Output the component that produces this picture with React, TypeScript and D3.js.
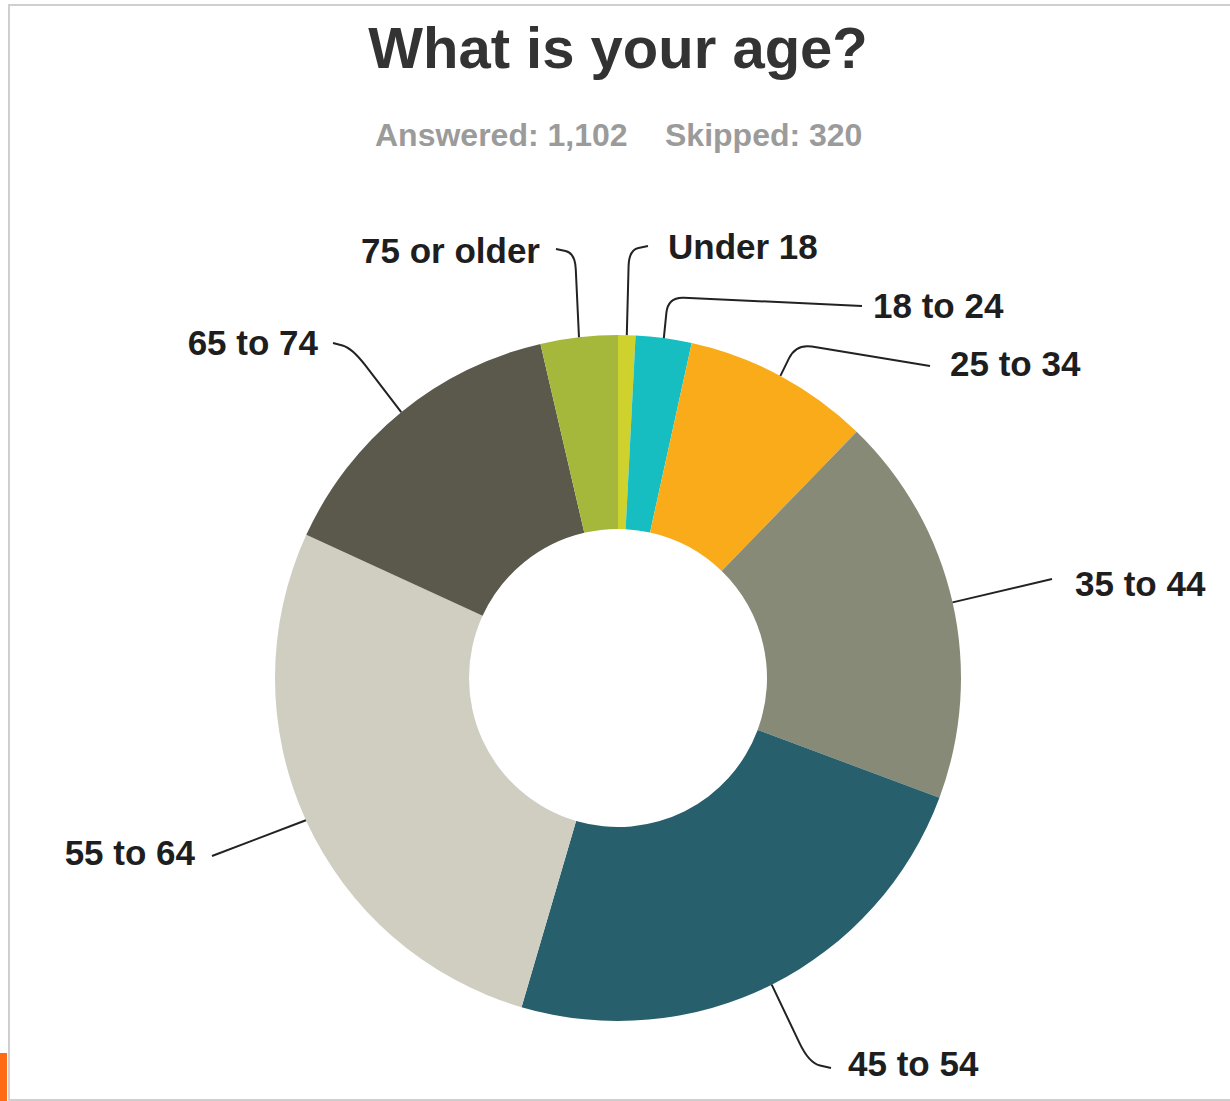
import React from "react";
import * as d3 from "d3";

const categories = ["Under 18", "18 to 24", "25 to 34", "35 to 44", "45 to 54", "55 to 64", "65 to 74", "75 or older"];
const counts = [9, 29, 97, 203, 263, 301, 160, 40];
const colors = ["#cfd22c", "#16bec1", "#f9ab19", "#888a78", "#275f6c", "#cfcec0", "#5b594b", "#a6b83b"];
const titleText = "What is your age?";
const answeredText = "Answered: 1,102";
const skippedText = "Skipped: 320";

type Lay = { tx: number; ty: number; anchor: string; elbow: [number, number] | null; end: [number, number]; r: number };
const labelLayout: Lay[] = [
  { tx: 668, ty: 259, anchor: "start", elbow: [629, 250], end: [648, 246], r: 16 },
  { tx: 873, ty: 318, anchor: "start", elbow: [668, 297], end: [862, 306], r: 16 },
  { tx: 950, ty: 376, anchor: "start", elbow: [796, 344], end: [930, 366], r: 16 },
  { tx: 1075, ty: 596, anchor: "start", elbow: null, end: [1052, 579], r: 0 },
  { tx: 848, ty: 1076, anchor: "start", elbow: [809, 1063], end: [831, 1068], r: 22 },
  { tx: 195, ty: 865, anchor: "end", elbow: null, end: [212, 856], r: 0 },
  { tx: 318, ty: 355, anchor: "end", elbow: [352, 348], end: [333, 343], r: 22 },
  { tx: 540, ty: 263, anchor: "end", elbow: [575, 253], end: [556, 249], r: 16 },
];

const W = 1230;
const H = 1101;
const cx = 618;
const cy = 678;
const outerR = 343;
const innerR = 149;
const FONT = "'Liberation Sans', Arial, Helvetica, sans-serif";

function roundedPath(pts: [number, number][], r: number): string {
  if (pts.length < 3 || r <= 0) {
    return "M" + pts.map((p) => p.join(",")).join("L");
  }
  const [a, b, c] = pts;
  const d1 = Math.hypot(b[0] - a[0], b[1] - a[1]);
  const d2 = Math.hypot(c[0] - b[0], c[1] - b[1]);
  const rr1 = Math.min(r, d1 / 2);
  const rr2 = Math.min(r, d2 / 2);
  const p1: [number, number] = [b[0] - ((b[0] - a[0]) / d1) * rr1, b[1] - ((b[1] - a[1]) / d1) * rr1];
  const p2: [number, number] = [b[0] + ((c[0] - b[0]) / d2) * rr2, b[1] + ((c[1] - b[1]) / d2) * rr2];
  return `M${a[0]},${a[1]}L${p1[0]},${p1[1]}Q${b[0]},${b[1]} ${p2[0]},${p2[1]}L${c[0]},${c[1]}`;
}

export default function App() {
  const pie = d3.pie<number>().sort(null).value((d) => d);
  const arcs = pie(counts);
  const arcGen = d3.arc<d3.PieArcDatum<number>>().innerRadius(innerR).outerRadius(outerR);

  return (
    <svg width={W} height={H} style={{ position: "absolute", left: 0, top: 0, background: "#fff" }} fontFamily={FONT}>
      <rect x={0} y={0} width={W} height={H} fill="#fff" />
      <line x1={8} y1={5} x2={W} y2={5} stroke="#cfcfcf" strokeWidth={2} />
      <line x1={9} y1={5} x2={9} y2={H} stroke="#cfcfcf" strokeWidth={2} />
      <line x1={9} y1={H - 1} x2={W} y2={H - 1} stroke="#cfcfcf" strokeWidth={2} />
      <rect x={0} y={1053} width={7} height={H - 1053} fill="#ff6a13" />

      <text x={cx} y={68} textAnchor="middle" fontSize={58} fontWeight="bold" fill="#333">
        {titleText}
      </text>
      <text x={375} y={146} fontSize={32} fontWeight="bold" fill="#9b9b9b">
        {answeredText}
      </text>
      <text x={665} y={146} fontSize={32} fontWeight="bold" fill="#9b9b9b">
        {skippedText}
      </text>

      <g transform={`translate(${cx},${cy})`}>
        {arcs.map((a, i) => (
          <path key={categories[i]} d={arcGen(a) || ""} fill={colors[i]} />
        ))}
      </g>

      {arcs.map((a, i) => {
        const mid = (a.startAngle + a.endAngle) / 2;
        const p0: [number, number] = [cx + outerR * Math.sin(mid), cy - outerR * Math.cos(mid)];
        const lay = labelLayout[i];
        const pts: [number, number][] = lay.elbow ? [p0, lay.elbow, lay.end] : [p0, lay.end];
        return (
          <g key={"lab" + i}>
            <path d={roundedPath(pts, lay.r)} fill="none" stroke="#222" strokeWidth={2} />
            <text x={lay.tx} y={lay.ty} textAnchor={lay.anchor} fontSize={35} fontWeight="bold" fill="#1e1e1e">
              {categories[i]}
            </text>
          </g>
        );
      })}
    </svg>
  );
}
